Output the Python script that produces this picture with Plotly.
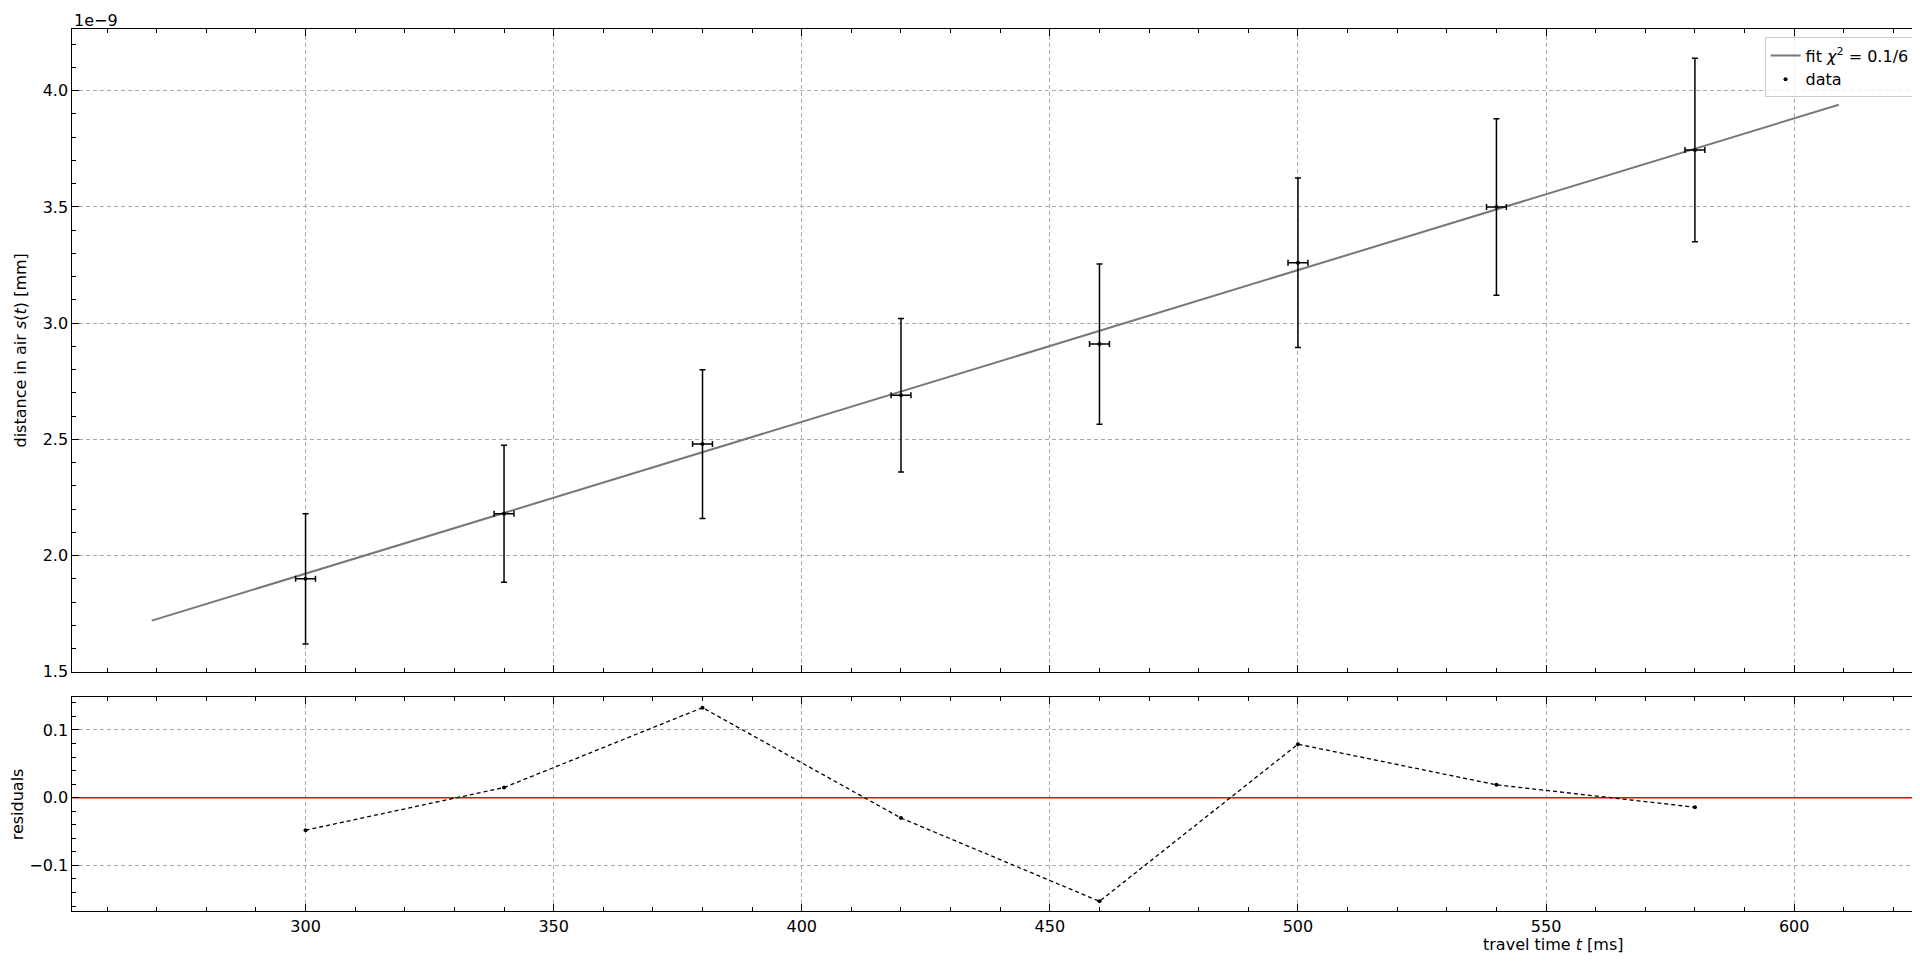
import plotly.graph_objects as go

t = [300, 340, 380, 420, 460, 500, 540, 580]
s = [1.90, 2.18, 2.48, 2.69, 2.91, 3.26, 3.50, 3.745]
s_err = [0.28, 0.295, 0.32, 0.33, 0.345, 0.365, 0.38, 0.395]
t_err = [2, 2, 2, 2, 2, 2, 2, 2]
fit_t = [269, 609]
fit_s = [1.72, 3.94]
resid = [-0.048, 0.015, 0.133, -0.030, -0.153, 0.079, 0.019, -0.014]

F = dict(family="DejaVu Sans", size=16, color="black")
fig = go.Figure()
fig.add_trace(go.Scatter(x=fit_t, y=fit_s, mode="lines", line=dict(color="#777777", width=2),
                         name="fit <i>χ</i><sup>2</sup> = 0.1/6", xaxis="x", yaxis="y"))
fig.add_trace(go.Scatter(x=t, y=s, mode="markers", marker=dict(color="black", size=4),
                         error_y=dict(array=s_err, color="black", thickness=1.5, width=3),
                         error_x=dict(array=t_err, color="black", thickness=1.5, width=3),
                         name="data", xaxis="x", yaxis="y"))
fig.add_trace(go.Scatter(x=[240, 640], y=[0, 0], mode="lines", line=dict(color="red", width=1.5),
                         showlegend=False, xaxis="x2", yaxis="y2"))
fig.add_trace(go.Scatter(x=t, y=resid, mode="lines+markers", line=dict(color="black", width=1.3, dash="4px,3px"),
                         marker=dict(color="black", size=4), showlegend=False, xaxis="x2", yaxis="y2"))

ax = dict(showline=True, linecolor="black", linewidth=1, mirror="allticks", ticks="inside",
          ticklen=7, tickcolor="black", showgrid=True, gridcolor="#aaaaaa", griddash="4px,3px",
          gridwidth=1, zeroline=False, tickfont=F,
          minor=dict(ticks="inside", ticklen=4, tickcolor="black", showgrid=False))
xr = [253, 626.2]
xd = [0.0325, 0.998]
fig.update_layout(
    width=1920, height=961, plot_bgcolor="white", paper_bgcolor="white", font=F,
    margin=dict(l=0, r=0, t=0, b=0),
    xaxis=dict(ax, domain=xd, range=xr, dtick=50, showticklabels=False, anchor="y",
               minor=dict(ax["minor"], dtick=10)),
    yaxis=dict(ax, domain=[0.302, 0.978], range=[1.5, 4.266], dtick=0.5, tickformat=".1f",
               minor=dict(ax["minor"], dtick=0.1), anchor="x",
               title=dict(text="distance in air <i>s</i>(<i>t</i>) [mm]", font=F, standoff=12)),
    xaxis2=dict(ax, domain=xd, range=xr, dtick=50, anchor="y2",
                minor=dict(ax["minor"], dtick=10)),
    yaxis2=dict(ax, domain=[0.050, 0.275], range=[-0.168, 0.148], dtick=0.1, tickformat=".1f",
                minor=dict(ax["minor"], dtick=0.02), anchor="x2",
                title=dict(text="residuals", font=F, standoff=10)),
    legend=dict(x=0.993, y=0.969, xanchor="right", yanchor="top", bordercolor="#cccccc",
                borderwidth=1, bgcolor="rgba(255,255,255,0.8)", font=F),
    annotations=[
        dict(text="1e−9", x=xd[0], y=0.999, xref="paper", yref="paper", xanchor="left",
             yanchor="top", showarrow=False, font=F),
        dict(text="travel time <i>t</i> [ms]", x=0.805, y=0.003, xref="paper", yref="paper",
             xanchor="center", yanchor="bottom", showarrow=False, font=F),
    ],
)
fig.write_html("out.html")
